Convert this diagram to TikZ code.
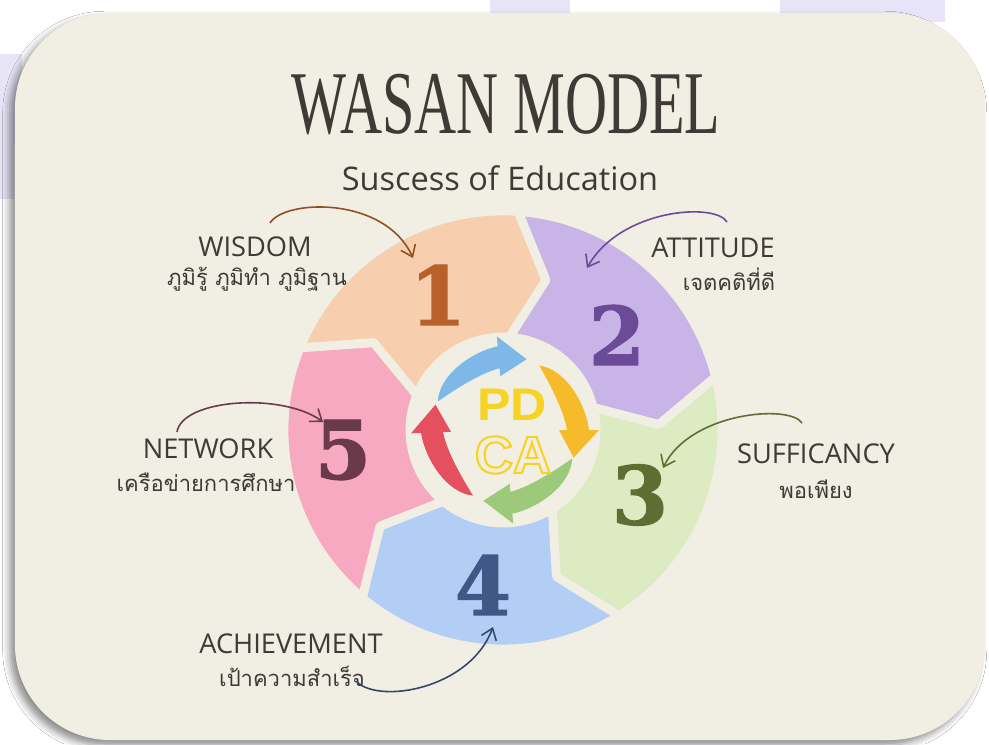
\documentclass[tikz,border=0pt]{standalone}
\usepackage{fontspec}
\setmainfont{Open Sans}
\newfontfamily\thaifont[Script=Thai]{Loma}
\newfontfamily\titlefont{Liberation Serif}
\newfontfamily\numfont[BoldFeatures={FakeBold=1.5}]{DejaVu Serif}
\newfontfamily\pdcafont{Liberation Sans}
\usetikzlibrary{arrows.meta,shadows.blur}

\definecolor{cream}{HTML}{F1EEE4}
\definecolor{lav}{HTML}{E6E4F6}
\definecolor{ink}{HTML}{3F3A36}
\definecolor{segA}{HTML}{F8CFAE}
\definecolor{segB}{HTML}{C8B4E6}
\definecolor{segC}{HTML}{DDEBC3}
\definecolor{segD}{HTML}{B2CEF4}
\definecolor{segE}{HTML}{F6A9C0}
\definecolor{numA}{HTML}{B8612B}
\definecolor{numB}{HTML}{6B4A97}
\definecolor{numC}{HTML}{5E6E33}
\definecolor{numD}{HTML}{3E5985}
\definecolor{numE}{HTML}{6A3A4C}
\definecolor{pdB}{HTML}{7DB8E8}
\definecolor{pdY}{HTML}{F6BB2B}
\definecolor{pdG}{HTML}{9CC97A}
\definecolor{pdR}{HTML}{E5505F}
\definecolor{pdtxt}{HTML}{F7D324}

\newcommand\hollow[1]{\special{pdf:literal direct 1 Tr 1.2 w}#1\special{pdf:literal direct 0 Tr}}

\begin{document}
\begin{tikzpicture}[x=0.02cm,y=0.02cm,
  num/.style={font=\numfont\bfseries\fontsize{46}{46}\selectfont,inner sep=0pt},
  lbl/.style={font=\fontsize{15.5}{15.5}\selectfont,text=ink,inner sep=1pt},
  thai/.style={font=\thaifont\fontsize{12.5}{12.5}\selectfont,text=ink,inner sep=1pt},
  cur/.style={line width=0.9pt,-{Straight Barb[length=6pt,width=9pt]}}]
\useasboundingbox (0,0) rectangle (989,744);
\fill[white] (0,0) rectangle (989,744);
\fill[lav] (490,728) rectangle (570,744);
\fill[lav] (780,730) rectangle (885,744);
\fill[lav] (855,722) rectangle (945,744);
\fill[lav] (0,600) rectangle (22,690);
\fill[lav] (0,545) rectangle (14,600);

\fill[cream,rounded corners=1.9cm,
  blur shadow={shadow xshift=-3pt,shadow yshift=-3pt,shadow blur radius=4pt,shadow opacity=45}]
  (15,4) rectangle (985,731);

\node[font=\titlefont\fontsize{51}{51}\selectfont,text=ink,xscale=0.65] (title) at (506,639) {WASAN MODEL};
\node[font=\fontsize{18.5}{18.5}\selectfont,text=ink] (subtitle) at (500,566) {Suscess of Education};

\begin{scope}[shift={(503,314)}]
\foreach \a/\c in {158/segA,86/segB,14/segC,-58/segD,-130/segE}
  \filldraw[fill=\c,draw=cream,line width=5pt,line join=round]
    (\a:219) arc[start angle=\a,end angle=\a-72,radius=219]
    -- ({\a-84}:156) -- ({\a-72}:93) arc[start angle=\a-72,end angle=\a,radius=93]
    -- ({\a-12}:156) -- cycle;
\end{scope}

\node[num,text=numA] (n1) at (438,449) {1};
\node[num,text=numB] (n2) at (617,409) {2};
\node[num,text=numC] (n3) at (640,249) {3};
\node[num,text=numD] (n4) at (483,159) {4};
\node[num,text=numE] (n5) at (343,294) {5};

\begin{scope}[shift={(505,314)}]
\foreach \h/\c in {95/pdB,0/pdY,-85/pdG,-178/pdR}
  \fill[\c] ({\h+62}:73) .. controls ({\h+45}:86) and ({\h+18}:85) .. (\h:84)
    -- (\h:94) -- ({\h-22}:74) -- (\h:54) -- (\h:62)
    .. controls ({\h+18}:62) and ({\h+45}:64) .. ({\h+62}:73) -- cycle;
\end{scope}

\node[font=\pdcafont\bfseries\fontsize{26}{26}\selectfont,text=pdtxt,xscale=1.1] (pd) at (512,339) {PD};
\node[font=\pdcafont\bfseries\fontsize{30}{30}\selectfont,text=pdtxt] (ca) at (513,289) {\hollow{CA}};

\node[lbl] (wisdom) at (255,497) {WISDOM};
\node[thai] (wisdomth) at (257,465) {ภูมิรู้ ภูมิทำ ภูมิฐาน};
\node[lbl] (attitude) at (713,496) {ATTITUDE};
\node[thai] (attitudeth) at (729,465) {เจตคติที่ดี};
\node[lbl] (suff) at (816,290) {SUFFICANCY};
\node[thai] (suffth) at (816,255) {พอเพียง};
\node[lbl] (network) at (208,295) {NETWORK};
\node[thai] (networkth) at (206,262) {เครือข่ายการศึกษา};
\node[lbl] (achieve) at (291,100) {ACHIEVEMENT};
\node[thai] (achieveth) at (292,68) {เป้าความสำเร็จ};

\coordinate (w1) at (270,521);
\coordinate (w2) at (413,486);
\coordinate (t1) at (727,522);
\coordinate (t2) at (587,476);
\coordinate (s1) at (802,321);
\coordinate (s2) at (663,276);
\coordinate (k1) at (177,312);
\coordinate (k2) at (323,322);
\coordinate (e1) at (357,62);
\coordinate (e2) at (493,117);
\draw[cur,numA!80!black] (w1) .. controls (285,545) and (385,548) .. (w2);
\draw[cur,numB] (t1) .. controls (715,542) and (620,535) .. (t2);
\draw[cur,numC] (s1) .. controls (790,340) and (690,332) .. (s2);
\draw[cur,numE] (k1) .. controls (182,345) and (282,352) .. (k2);
\draw[cur,numD!80!black] (e1) .. controls (380,40) and (470,55) .. (e2);
\end{tikzpicture}
\end{document}
